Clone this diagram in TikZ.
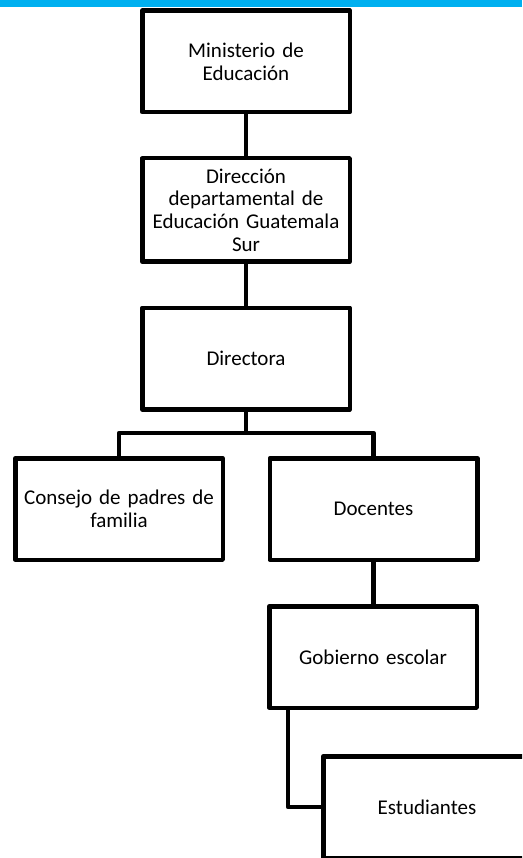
\documentclass[tikz,border=0pt]{standalone}
\usepackage{fontspec}
\setmainfont{Carlito}
\definecolor{topblue}{HTML}{00B0F0}
\begin{document}
\begin{tikzpicture}[x=1pt,y=-1pt,
  orgbox/.style={draw=black, line width=4.5pt, line join=round, fill=white,
    minimum width=207.5pt, minimum height=101.5pt, text width=200pt, align=center,
    inner sep=0pt, font=\fontsize{21}{22.7}\selectfont},
  link/.style={draw=black, line width=4.5pt, line join=round}]
\useasboundingbox (0,0) rectangle (522,858);
\clip (0,0) rectangle (522,858);
\fill[topblue] (0,0) rectangle (522,7.3);
\node[orgbox] (m) at (246,61.5) {Ministerio de\\Educación};
\node[orgbox, minimum height=103.5pt] (dd) at (246,210) {Dirección\\departamental de\\Educación Guatemala\\Sur};
\node[orgbox] (d) at (246,358.5) {Directora};
\node[orgbox] (c) at (119,509) {Consejo de padres de\\familia};
\node[orgbox] (doc) at (373.5,509) {Docentes};
\node[orgbox] (g) at (373,657) {Gobierno escolar};
\node[orgbox] (e) at (427,807) {Estudiantes};
\draw[link] (m.south) -- (dd.north);
\draw[link] (dd.south) -- (d.south |- dd.south) -- (d.north);
\coordinate (br) at (246,433);
\draw[link] (d.south) -- (br);
\draw[link] (c.north) |- (br) -| (doc.north);
\draw[link] (doc.south) -- (doc.south |- g.north);
\draw[link] (g.south west) ++(21,0) |- (e.west);
\end{tikzpicture}
\end{document}
